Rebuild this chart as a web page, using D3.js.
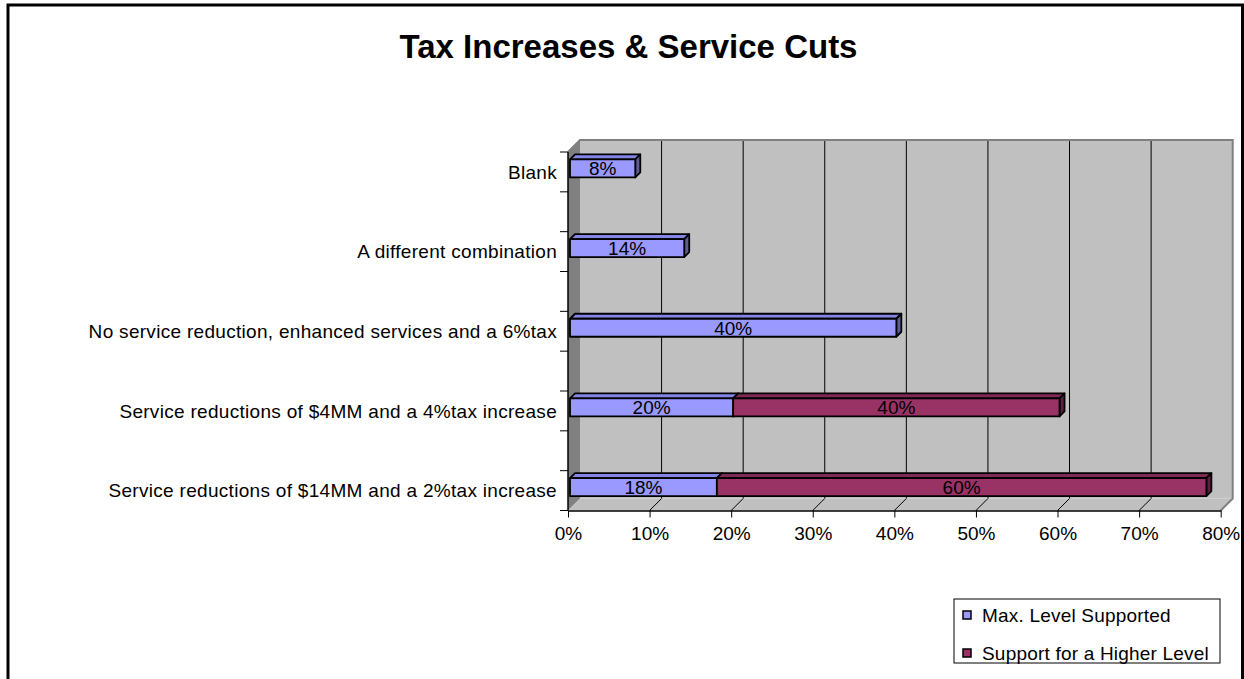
<!DOCTYPE html>
<html>
<head>
<meta charset="utf-8">
<script src="https://cdn.jsdelivr.net/npm/d3@7"></script>
<style>
  html, body { margin: 0; padding: 0; background: #fff; }
  svg { display: block; font-family: "Liberation Sans", Arial, sans-serif; }
</style>
</head>
<body>
<svg id="chart" width="1244" height="679"></svg>
<script>
// Categories, listed top to bottom as they appear on the axis
const categories = [
  "Blank",
  "A different combination",
  "No service reduction, enhanced services and a 6%tax",
  "Service reductions of $4MM and a 4%tax increase",
  "Service reductions of $14MM and a 2%tax increase"
];
// Percent of respondents per series
const maxLevelSupported = [8, 14, 40, 20, 18];
const higherLevelSupport = [0, 0, 0, 40, 60];
const seriesNames = ["Max. Level Supported", "Support for a Higher Level"];
const xTickValues = [0, 10, 20, 30, 40, 50, 60, 70, 80];
const chartTitle = "Tax Increases & Service Cuts";

const seriesColors = [
  { front: "#9999ff", top: "#8585e6", side: "#5c5c99" },
  { front: "#993366", top: "#7d2a54", side: "#5c1f3d" }
];

const svg = d3.select("#chart");

// Plot frame: front plane and the depth offset of the back wall
const front = { left: 568, right: 1220.7, top: 152, bottom: 510.5 };
const depth = { dx: 12, dy: -12 };
const barShift = { dx: 2, dy: -3.5 };   // bars sit slightly behind the front plane
const barDepth = { dx: 5, dy: -5 };
const barHeight = 18;

const x = d3.scaleLinear().domain([0, 80]).range([front.left, front.right]);
const y = d3.scaleBand().domain(categories)
  .range([front.top, front.bottom]).paddingInner(0.5).paddingOuter(0);

// Title
svg.append("text")
  .attr("x", 628.5).attr("y", 58)
  .attr("text-anchor", "middle")
  .attr("font-size", 33).attr("font-weight", "bold")
  .text(chartTitle);

const g = svg.append("g");
const pts = arr => arr.map(p => p.join(",")).join(" ");

// Back wall
const bw = { x0: front.left + depth.dx, x1: front.right + depth.dx,
             y0: front.top + depth.dy, y1: front.bottom + depth.dy };
g.append("rect")
  .attr("x", bw.x0).attr("y", bw.y0)
  .attr("width", bw.x1 - bw.x0).attr("height", bw.y1 - bw.y0)
  .attr("fill", "#c0c0c0");

// Vertical gridlines on the back wall
g.selectAll("line.grid").data(xTickValues.filter(v => v > 0 && v < 80))
  .join("line").attr("class", "grid")
  .attr("x1", d => x(d) + depth.dx).attr("x2", d => x(d) + depth.dx)
  .attr("y1", bw.y0).attr("y2", bw.y1)
  .attr("stroke", "#000").attr("stroke-width", 1);

// Left side wall
g.append("polygon")
  .attr("points", pts([[front.left, front.top], [bw.x0, bw.y0], [bw.x0, bw.y1], [front.left, front.bottom]]))
  .attr("fill", "#808080");

// Floor
g.append("polygon")
  .attr("points", pts([[front.left, front.bottom], [bw.x0, bw.y1], [bw.x1, bw.y1], [front.right, front.bottom]]))
  .attr("fill", "#c0c0c0");

// Gridlines running across the floor
g.selectAll("line.floorgrid").data(xTickValues.filter(v => v > 0 && v < 80))
  .join("line").attr("class", "floorgrid")
  .attr("x1", d => x(d)).attr("y1", front.bottom)
  .attr("x2", d => x(d) + depth.dx).attr("y2", bw.y1)
  .attr("stroke", "#000").attr("stroke-width", 1);

// Wall outlines
g.append("polyline")
  .attr("points", pts([[front.left, front.top], [bw.x0, bw.y0], [bw.x1, bw.y0], [bw.x1, bw.y1], [front.right, front.bottom]]))
  .attr("fill", "none").attr("stroke", "#808080").attr("stroke-width", 2);

// X axis
const xAxis = d3.axisBottom(x)
  .tickValues(xTickValues)
  .tickFormat(d => d + "%")
  .tickSize(7).tickSizeOuter(0).tickPadding(9);
const xg = g.append("g").attr("transform", `translate(0,${front.bottom})`).call(xAxis);
xg.select(".domain").attr("stroke", "#000").attr("stroke-width", 1.5);
xg.selectAll(".tick line").attr("stroke", "#000");
xg.selectAll(".tick text")
  .attr("font-size", 19).attr("fill", "#000")
  .attr("font-family", "Liberation Sans, Arial, sans-serif");

// Y axis line with ticks at each band edge
g.append("line")
  .attr("x1", front.left).attr("x2", front.left)
  .attr("y1", front.top).attr("y2", front.bottom)
  .attr("stroke", "#000").attr("stroke-width", 1.5);
const edges = categories.flatMap(c => [y(c), y(c) + y.bandwidth()]);
g.selectAll("line.ytick").data(edges).join("line").attr("class", "ytick")
  .attr("x1", front.left - 8).attr("x2", front.left)
  .attr("y1", d => d).attr("y2", d => d)
  .attr("stroke", "#000").attr("stroke-width", 1);

g.selectAll("text.cat").data(categories).join("text").attr("class", "cat")
  .attr("x", 557).attr("y", d => y(d) + y.bandwidth() / 2)
  .attr("dy", "0.35em").attr("text-anchor", "end")
  .attr("font-size", 19).attr("letter-spacing", 0.3)
  .text(d => d);

// Stacked 3D bars
const stacked = categories.map((c, i) => {
  const vals = [maxLevelSupported[i], higherLevelSupport[i]];
  let acc = 0;
  return vals.map((v, s) => {
    const seg = { cat: c, series: s, value: v, x0: acc, x1: acc + v };
    acc += v;
    return seg;
  }).filter(seg => seg.value > 0);
});

const barsG = g.append("g");
stacked.forEach(segs => {
  segs.forEach(seg => {
    const col = seriesColors[seg.series];
    const yc = y(seg.cat) + y.bandwidth() / 2 + barShift.dy;
    const xa = x(seg.x0) + barShift.dx;
    const xb = x(seg.x1) + barShift.dx;
    const yt = yc - barHeight / 2, yb = yc + barHeight / 2;
    const bg = barsG.append("g")
      .attr("stroke", "#000").attr("stroke-width", 1.8).attr("stroke-linejoin", "round");
    bg.append("polygon")
      .attr("points", pts([[xa, yt], [xa + barDepth.dx, yt + barDepth.dy], [xb + barDepth.dx, yt + barDepth.dy], [xb, yt]]))
      .attr("fill", col.top);
    bg.append("polygon")
      .attr("points", pts([[xb, yt], [xb + barDepth.dx, yt + barDepth.dy], [xb + barDepth.dx, yb + barDepth.dy], [xb, yb]]))
      .attr("fill", col.side);
    bg.append("rect")
      .attr("x", xa).attr("y", yt).attr("width", xb - xa).attr("height", barHeight)
      .attr("fill", col.front);
    barsG.append("text")
      .attr("x", (xa + xb) / 2).attr("y", yc)
      .attr("dy", "0.36em").attr("text-anchor", "middle")
      .attr("font-size", 19).attr("fill", "#000")
      .text(seg.value + "%");
  });
});

// Legend
const legend = svg.append("g").attr("transform", "translate(954,599)");
legend.append("rect")
  .attr("width", 266).attr("height", 64)
  .attr("fill", "#fff").attr("stroke", "#000").attr("stroke-width", 1);
seriesNames.forEach((name, i) => {
  const cy = 16 + i * 38;
  legend.append("rect")
    .attr("x", 9).attr("y", cy - 4).attr("width", 8).attr("height", 8)
    .attr("fill", seriesColors[i].front).attr("stroke", "#000").attr("stroke-width", 1.5);
  legend.append("text")
    .attr("x", 28).attr("y", cy).attr("dy", "0.35em")
    .attr("font-size", 19).attr("letter-spacing", 0.2)
    .text(name);
});

// Chart border
svg.append("rect")
  .attr("x", 8).attr("y", 5).attr("width", 1234.5).attr("height", 720)
  .attr("fill", "none").attr("stroke", "#000").attr("stroke-width", 3);
</script>
</body>
</html>
